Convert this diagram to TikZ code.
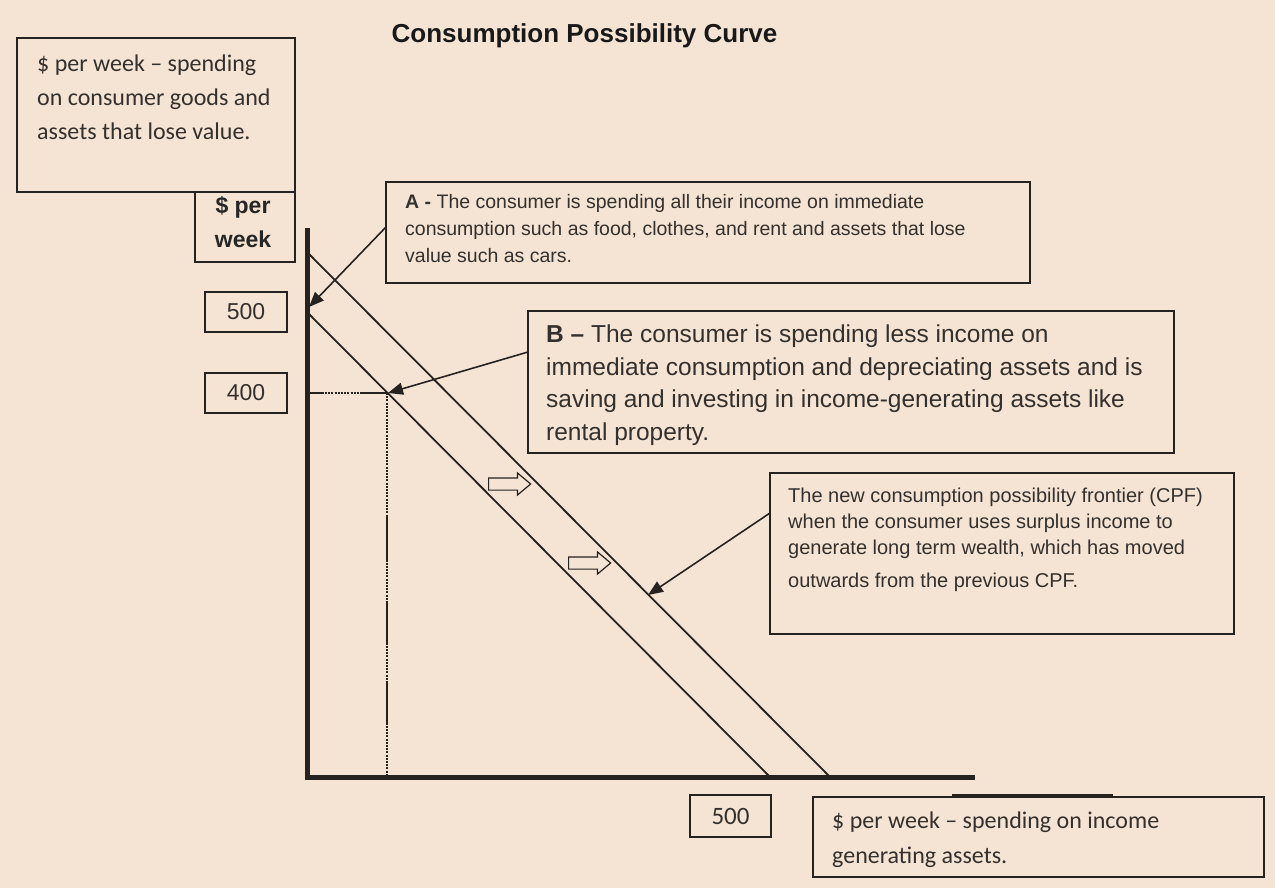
\documentclass[tikz,border=0pt]{standalone}
\usepackage{fontspec}
\setmainfont{Liberation Sans}
\newfontfamily\calfont{Carlito}
\usetikzlibrary{arrows.meta,shapes.arrows}
\definecolor{bg}{RGB}{245,228,211}
\definecolor{ink}{RGB}{38,34,32}
\definecolor{txt}{RGB}{52,48,46}
\tikzset{
  box/.style={draw=ink, line width=1.4pt, rectangle, inner sep=0pt, outer sep=0pt, anchor=north west},
  numbox/.style={draw=ink, line width=1.3pt, rectangle, inner sep=0pt, outer sep=0pt, anchor=north west, text=txt},
  txtnode/.style={anchor=base west, align=left, inner sep=0pt, text=txt},
  axisline/.style={draw=ink, line width=5pt},
  cpfline/.style={draw=ink, line width=1.8pt},
  pointer/.style={draw=ink, line width=1.6pt, -{Triangle[length=15pt,width=12pt]}},
  shiftarrow/.style={single arrow, draw=ink, fill=bg, line width=1.2pt, inner xsep=0pt, inner ysep=5.5pt, minimum height=42pt, single arrow head extend=5pt, single arrow tip angle=80},
  guide/.style={draw=ink, line width=2.6pt, dash pattern=on 2pt off 1.2pt},
}
\begin{document}
\begin{tikzpicture}[x=1pt,y=-1pt]
\fill[bg] (0,0) rectangle (1275,888);
\useasboundingbox (0,0) rectangle (1275,888);

% title
\node[anchor=base, inner sep=0pt, text=black!90, font=\bfseries\fontsize{26}{30}\selectfont] (title) at (584.5,43) {Consumption Possibility Curve};

% boxes (text nodes are anchored at the baseline of their last line)
\node[box, minimum width=278pt, minimum height=154pt] (ylab) at (17,38) {};
\node[txtnode, font=\calfont\fontsize{24}{34.5}\selectfont] (ylabt) at (37,140) {\$ per week – spending\\on consumer goods and\\assets that lose value.};

\node[box, minimum width=100pt, minimum height=70pt] (yunit) at (195,192) {};
\node[anchor=base, align=center, inner sep=0pt, text=black!85, font=\bfseries\fontsize{23}{34}\selectfont] (yunitt) at (243,247) {\$ per\\week};

\node[box, minimum width=644pt, minimum height=101pt] (abox) at (386,182) {};
\node[txtnode, font=\fontsize{19.5}{27}\selectfont] (atext) at (405,262) {\textbf{A -} The consumer is spending all their income on immediate\\consumption such as food, clothes, and rent and assets that lose\\value such as cars.};

\node[box, minimum width=646pt, minimum height=142pt] (bbox) at (528,311) {};
\node[txtnode, font=\fontsize{24.5}{32.5}\selectfont] (btext) at (546,440) {\textbf{B –} The consumer is spending less income on\\immediate consumption and depreciating assets and is\\saving and investing in income-generating assets like\\rental property.};

\node[box, minimum width=464pt, minimum height=161pt] (cbox) at (770,473) {};
\node[txtnode, font=\fontsize{20}{26}\selectfont] (ctext) at (788,587) {The new consumption possibility frontier (CPF)\\when the consumer uses surplus income to\\generate long term wealth, which has moved\\[7pt]outwards from the previous CPF.};

\node[box, minimum width=451pt, minimum height=80pt] (xlab) at (813,797) {};
\node[txtnode, font=\calfont\fontsize{24}{35}\selectfont] (xlabt) at (832,863) {\$ per week – spending on income\\generating assets.};
\coordinate (xbarL) at (952,795);
\coordinate (xbarR) at (1113,795);
\draw[ink, line width=3pt] (xbarL) -- (xbarR);

% value boxes
\node[numbox, minimum width=82pt, minimum height=40pt, font=\fontsize{23}{26}\selectfont] (y500) at (205,292) {500};
\node[numbox, minimum width=82pt, minimum height=40pt, font=\fontsize{23}{26}\selectfont] (y400) at (205,373) {400};
\node[numbox, minimum width=81pt, minimum height=42pt, font=\calfont\fontsize{25}{28}\selectfont] (x500) at (690,795) {500};

% axes
\coordinate (O) at (307,777);
\coordinate (ytop) at (307,230);
\coordinate (xend) at (972,777);
\draw[axisline, line cap=rect] (ytop) -- (O) -- (xend);

% CPF lines
\coordinate (in1) at (307,312);
\coordinate (in2) at (770,777);
\coordinate (out1) at (307,252);
\coordinate (out2) at (830,777);
\draw[cpfline] (in1) -- (in2);
\draw[cpfline] (out1) -- (out2);

% point B guides
\coordinate (ptB) at (387,393);
\coordinate (ptBy) at (309,393);
\coordinate (ptBx) at (387,775);
\draw[guide] (ptBy) -- (ptB);
\draw[ink, line width=2.6pt, dash pattern=on 15pt off 37pt on 30pt] (ptBy) -- (ptB);
\draw[guide] (ptB) -- (ptBx);
\draw[ink, line width=2.6pt, dash pattern=on 0pt off 124pt on 45pt off 41pt on 40pt off 40pt on 40pt off 200pt] (ptB) -- (ptBx);

% pointers
\coordinate (aStart) at (386,227);
\coordinate (aTip) at (309,307);
\draw[pointer] (aStart) -- (aTip);
\coordinate (bStart) at (528,352);
\coordinate (bTip) at (388,393);
\draw[pointer] (bStart) -- (bTip);
\coordinate (cStart) at (770,513);
\coordinate (cTip) at (648,595);
\draw[pointer] (cStart) -- (cTip);

% shift arrows
\node[shiftarrow] (sh1) at (506,484) {};
\node[shiftarrow] (sh2) at (586,563) {};
\end{tikzpicture}
\end{document}
